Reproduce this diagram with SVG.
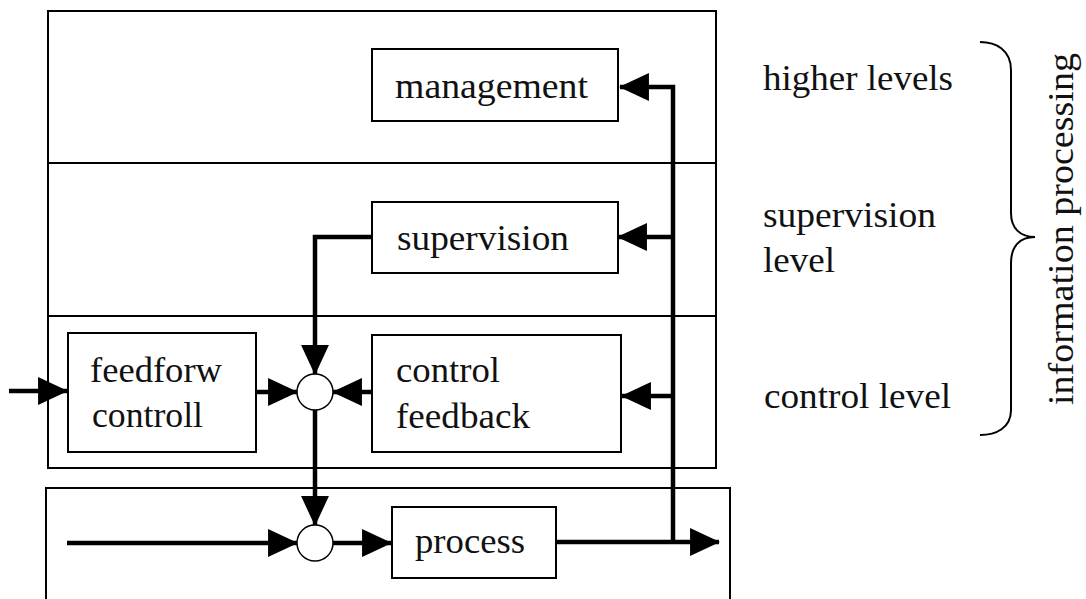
<svg xmlns="http://www.w3.org/2000/svg" width="1086" height="599" viewBox="0 0 1086 599">
  <style>
    .frame { fill: none; stroke: #000; stroke-width: 2; }
    .box { fill: #fff; stroke: #000; stroke-width: 2; }
    .sum { fill: #fff; stroke: #000; stroke-width: 1.5; }
    .wire { fill: none; stroke: #000; stroke-width: 4.5; }
    .label { font-family: "Liberation Serif", "Times New Roman", serif; font-size: 35px; fill: #111; }
    .brace { fill: none; stroke: #000; stroke-width: 2; }
  </style>
  <defs>
    <marker id="arrow" markerUnits="userSpaceOnUse" markerWidth="30" markerHeight="28" viewBox="0 0 28 26" refX="27" refY="13" orient="auto">
      <path d="M0,0 L28,13 L0,26 z" fill="#000"/>
    </marker>
  </defs>

  <rect width="1086" height="599" fill="#fff"/>

  <!-- level frames -->
  <g id="levels">
    <rect class="frame" x="48" y="11" width="668" height="457"/>
    <line class="frame" x1="48" y1="163" x2="716" y2="163"/>
    <line class="frame" x1="48" y1="316" x2="716" y2="316"/>
    <rect class="frame" x="46" y="488" width="684" height="140"/>
  </g>

  <!-- signal wiring -->
  <g id="connectors">
    <path class="wire" d="M9,391 H67" marker-end="url(#arrow)"/>
    <path class="wire" d="M256,392 H297" marker-end="url(#arrow)"/>
    <path class="wire" d="M372,392 H333" marker-end="url(#arrow)"/>
    <path class="wire" d="M372,237 H315 V374" marker-end="url(#arrow)"/>
    <path class="wire" d="M315,410 V525" marker-end="url(#arrow)"/>
    <path class="wire" d="M67,543 H297" marker-end="url(#arrow)"/>
    <path class="wire" d="M333,543 H391" marker-end="url(#arrow)"/>
    <path class="wire" d="M556,542 H719" marker-end="url(#arrow)"/>
    <path class="wire" d="M673,542 V87 H620" marker-end="url(#arrow)"/>
    <path class="wire" d="M673,237 H618" marker-end="url(#arrow)"/>
    <path class="wire" d="M673,396 H622" marker-end="url(#arrow)"/>
  </g>

  <g id="management">
    <rect class="box" x="372" y="49" width="246" height="72"/>
    <text class="label" x="395" y="98" textLength="193" lengthAdjust="spacingAndGlyphs">management</text>
  </g>

  <g id="supervision">
    <rect class="box" x="372" y="202" width="246" height="71"/>
    <text class="label" x="397" y="250" textLength="172" lengthAdjust="spacingAndGlyphs">supervision</text>
  </g>

  <g id="feedforward">
    <rect class="box" x="68" y="333" width="188" height="119"/>
    <text class="label" x="90" y="382" textLength="132" lengthAdjust="spacingAndGlyphs">feedforw</text>
    <text class="label" x="92" y="427" textLength="111" lengthAdjust="spacingAndGlyphs">controll</text>
  </g>

  <g id="control-feedback">
    <rect class="box" x="372" y="335" width="249" height="117"/>
    <text class="label" x="396" y="382" textLength="104" lengthAdjust="spacingAndGlyphs">control</text>
    <text class="label" x="396" y="428" textLength="134" lengthAdjust="spacingAndGlyphs">feedback</text>
  </g>

  <g id="sum-control">
    <circle class="sum" cx="315" cy="392" r="18"/>
  </g>

  <g id="sum-process">
    <circle class="sum" cx="315" cy="543" r="18"/>
  </g>

  <g id="process">
    <rect class="box" x="392" y="507" width="164" height="71"/>
    <text class="label" x="415" y="553" textLength="110" lengthAdjust="spacingAndGlyphs">process</text>
  </g>

  <!-- level names and grouping brace -->
  <g id="level-labels">
    <text class="label" x="763" y="90" textLength="190" lengthAdjust="spacingAndGlyphs">higher levels</text>
    <text class="label" x="763" y="227" textLength="173" lengthAdjust="spacingAndGlyphs">supervision</text>
    <text class="label" x="763" y="272" textLength="72" lengthAdjust="spacingAndGlyphs">level</text>
    <text class="label" x="764" y="408" textLength="187" lengthAdjust="spacingAndGlyphs">control level</text>
  </g>

  <g id="information-processing">
    <path class="brace" d="M980,42 C996,42 1011,50 1011,70 V213 C1011,228 1020,237 1035,237 C1020,237 1011,246 1011,263 V410 C1011,428 996,435 980,435"/>
    <text class="label" transform="translate(1073,405) rotate(-90)" x="0" y="0" textLength="352" lengthAdjust="spacingAndGlyphs">information processing</text>
  </g>
</svg>
